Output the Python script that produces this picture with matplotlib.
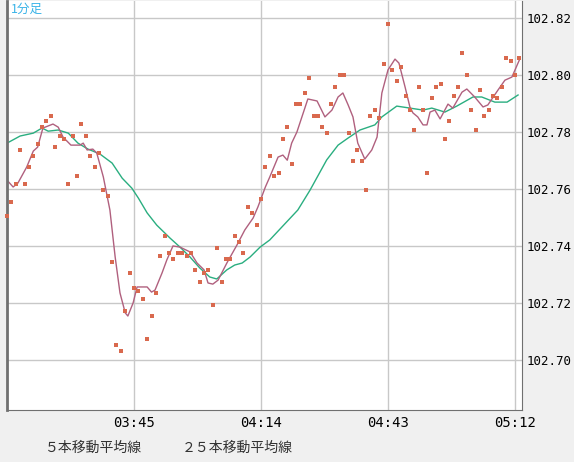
import matplotlib.pyplot as plt

plt.rcParams['font.family'] = ['Noto Sans CJK JP', 'DejaVu Sans']

# minutes counted from 03:16
price = [
    102.7505, 102.7554, 102.7617, 102.7737, 102.7617, 102.7677, 102.7716, 102.7758, 102.7817, 102.7838,
    102.7856, 102.7747, 102.7786, 102.7775, 102.7617, 102.7786, 102.7645, 102.7828, 102.7786, 102.7716,
    102.7677, 102.7726, 102.7596, 102.7575, 102.7344, 102.7052, 102.7031, 102.7172, 102.7305, 102.7252,
    102.7242, 102.7214, 102.7073, 102.7154, 102.7235, 102.7365, 102.7435, 102.7375, 102.7354, 102.7375,
    102.7375, 102.7365, 102.7375, 102.7316, 102.7273, 102.7305, 102.7316, 102.7193, 102.7393, 102.7273,
    102.7354, 102.7354, 102.7435, 102.7414, 102.7375, 102.7537, 102.7516, 102.7473, 102.7565, 102.7677,
    102.7716, 102.7645, 102.7656, 102.7775, 102.7817, 102.7688, 102.7898, 102.7898, 102.7937, 102.7989,
    102.7856, 102.7856, 102.7817, 102.7796, 102.7898, 102.7958, 102.8000, 102.8000, 102.7796, 102.7698,
    102.7737, 102.7698, 102.7596, 102.7856, 102.7877, 102.7849, 102.8039, 102.8179, 102.8018, 102.7979,
    102.8028, 102.7926, 102.7877, 102.7807, 102.7958, 102.7877, 102.7656, 102.7919, 102.7958, 102.7968,
    102.7775, 102.7838, 102.7926, 102.7958, 102.8077, 102.8000, 102.7877, 102.7807, 102.7947, 102.7856,
    102.7877, 102.7926, 102.7919, 102.7958, 102.8060, 102.8049, 102.8000, 102.8060,
]
minutes = list(range(len(price)))

ma5_t = [0, 1.4, 2.5, 4.5, 6, 7, 8.2, 10.5, 11.7, 12.8, 14.6, 16.7, 17.4, 18.3, 19.6, 20.5, 22, 23.5,
         24.7, 25.8, 27, 27.6, 28.8, 29.7, 32, 33, 33.8, 35.4, 36.5, 37.9, 39.5, 41.8, 43.4, 45, 45.9,
         47, 48.2, 50.2, 52.5, 54.3, 56.2, 57.3, 59, 60, 61.9, 63, 64, 65, 66.2, 68.7, 70.8, 72.6, 74.2,
         75.6, 76.7, 77.9, 79, 80.1, 81.7, 83.3, 84.5, 85.6, 87, 88.6, 89.5, 90.9, 92, 92.7, 93.8, 95,
         95.9, 96.6, 97.7, 98.9, 100.7, 101.8, 103.9, 105, 106.8, 108.7, 109.8, 112.1, 113.7, 115.3, 117]
ma5_v = [102.7631, 102.7607, 102.7621, 102.7677, 102.7733, 102.7747, 102.7814, 102.7828, 102.7817,
         102.7782, 102.7754, 102.7754, 102.7761, 102.7737, 102.7740, 102.7726, 102.7642, 102.7526,
         102.7361, 102.7235, 102.7165, 102.7154, 102.7200, 102.7256, 102.7256, 102.7238, 102.7245,
         102.7305, 102.7351, 102.7400, 102.7396, 102.7379, 102.7340, 102.7316, 102.7270, 102.7266,
         102.7280, 102.7340, 102.7403, 102.7456, 102.7498, 102.7537, 102.7607, 102.7642, 102.7712,
         102.7719, 102.7701, 102.7761, 102.7800, 102.7916, 102.7909, 102.7853, 102.7877, 102.7923,
         102.7937, 102.7895, 102.7853, 102.7761, 102.7705, 102.7737, 102.7782, 102.7937, 102.8018,
         102.8056, 102.8042, 102.7958, 102.7888, 102.7867, 102.7853, 102.7825, 102.7825, 102.7870,
         102.7877, 102.7846, 102.7898, 102.7884, 102.7940, 102.7951, 102.7923, 102.7888, 102.7895,
         102.7947, 102.7982, 102.7993, 102.8053]

ma25_t = [0, 3, 6, 8, 9.4, 11.7, 14, 16.2, 18.5, 21.2, 24, 26.3, 28.5, 30, 32, 34.2, 37.2, 39.5, 41.8,
          44, 46.3, 47.9, 50.2, 52, 53.7, 55.5, 57.8, 60, 66.4, 69.2, 73, 75.6, 77.9, 80.6, 84, 85.6,
          89, 92, 95, 97, 100, 102.7, 106.4, 108.4, 111.4, 114.2, 116.7]
ma25_v = [102.7761, 102.7786, 102.7796, 102.7814, 102.7803, 102.7807, 102.7796, 102.7761, 102.7740,
          102.7723, 102.7691, 102.7638, 102.7603, 102.7568, 102.7516, 102.7473, 102.7428, 102.7396,
          102.7361, 102.7323, 102.7291, 102.7284, 102.7316, 102.7333, 102.7340, 102.7361, 102.7396,
          102.7421, 102.7526, 102.7596, 102.7702, 102.7754, 102.7779, 102.7807, 102.7825, 102.7853,
          102.7891, 102.7884, 102.7877, 102.7884, 102.7870, 102.7891, 102.7923, 102.7923, 102.7905,
          102.7905, 102.7930]

tick_pos = [29, 58, 87, 116]
tick_labels = ["03:45", "04:14", "04:43", "05:12"]
y_ticks = [102.70, 102.72, 102.74, 102.76, 102.78, 102.80, 102.82]

fig = plt.figure(figsize=(5.74, 4.62), dpi=100, facecolor="#f0f0f0")
ax = fig.add_axes([7 / 574, 1 - 410 / 462, 515 / 574, 409 / 462])
ax.set_facecolor("white")
ax.set_xlim(0, 117.6)
ax.set_ylim(102.6824, 102.826)

ax.grid(True, color="#c8c8c8", linewidth=1)
ax.set_axisbelow(True)
ax.plot(ma25_t, ma25_v, color="#2aae80", linewidth=1)
ax.plot(ma5_t, ma5_v, color="#b0607e", linewidth=1)
ax.scatter(minutes, price, marker="s", s=7, color="#d9694e", linewidths=0, zorder=3, clip_on=False)

ax.set_xticks(tick_pos)
ax.set_xticklabels(tick_labels, family="DejaVu Sans Mono", fontsize=10)
ax.set_yticks(y_ticks)
ax.set_yticklabels([f"{v:.2f}" for v in y_ticks], family="DejaVu Sans Mono", fontsize=9)
ax.yaxis.tick_right()
ax.tick_params(length=0, pad=4)
ax.tick_params(axis="y", pad=3)
ax.spines["top"].set_visible(False)
for side in ["left", "right", "bottom"]:
    ax.spines[side].set_color("#707070")
ax.spines["left"].set_linewidth(2)

ax.text(0.008, 0.995, "1分足", transform=ax.transAxes, color="#3ab4e8",
        fontsize=9, va="top", ha="left")

fig.lines.append(plt.Line2D([17 / 574, 35 / 574], [14 / 462, 14 / 462], color="#b0607e", lw=1))
fig.text(45 / 574, 14 / 462, "５本移動平均線", fontsize=10, va="center", color="#333333")
fig.lines.append(plt.Line2D([153 / 574, 173 / 574], [14 / 462, 14 / 462], color="#2aae80", lw=1))
fig.text(182 / 574, 14 / 462, "２５本移動平均線", fontsize=10, va="center", color="#333333")

fig.savefig("out.png", dpi=100, facecolor=fig.get_facecolor())
